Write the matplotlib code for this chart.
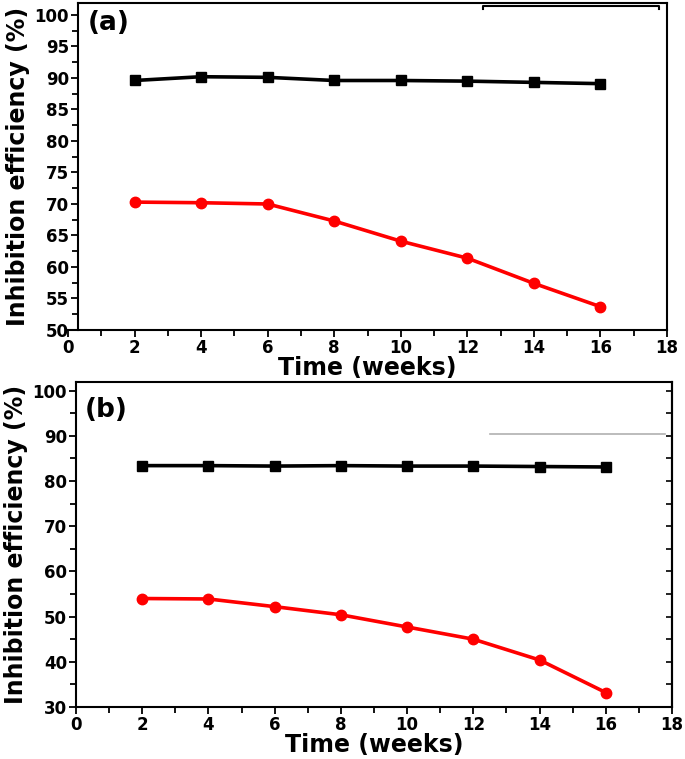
import matplotlib
matplotlib.use("Agg")
import matplotlib.pyplot as plt
from matplotlib.ticker import MultipleLocator
from matplotlib.lines import Line2D

plt.rcParams['font.family'] = ['DejaVu Sans']
plt.rcParams['font.weight'] = 'bold'

weeks = [2, 4, 6, 8, 10, 12, 14, 16]
a_black = [89.6, 90.2, 90.1, 89.6, 89.6, 89.5, 89.3, 89.1]
a_red = [70.3, 70.2, 70.0, 67.3, 64.1, 61.4, 57.4, 53.7]
b_black = [83.4, 83.4, 83.3, 83.4, 83.3, 83.3, 83.2, 83.1]
b_red = [54.0, 53.9, 52.2, 50.4, 47.7, 45.0, 40.4, 33.2]

W, H = 685, 759
fig = plt.figure(figsize=(W/100, H/100), dpi=100)

def px_axes(x0, x1, y0, y1):
    return fig.add_axes([x0/W, 1 - y1/H, (x1-x0)/W, (y1-y0)/H])

axa = px_axes(68, 667, 3, 330)
axb = px_axes(76, 672, 382, 707)

for ax, blk, red, ylim, maj, mnr in [
        (axa, a_black, a_red, (50, 101.9), 5, 2.5),
        (axb, b_black, b_red, (30, 101.9), 10, 5)]:
    ax.plot(weeks, blk, color='black', lw=2.6, marker='s', ms=6.5, zorder=3)
    ax.plot(weeks, red, color='#ff0000', lw=2.6, marker='o', ms=7.5, zorder=3)
    ax.set_xlim(0, 18)
    ax.set_ylim(*ylim)
    ax.xaxis.set_major_locator(MultipleLocator(2))
    ax.xaxis.set_minor_locator(MultipleLocator(1))
    ax.yaxis.set_major_locator(MultipleLocator(maj))
    ax.yaxis.set_minor_locator(MultipleLocator(mnr))
    ax.tick_params(which='both', direction='out', width=1.3, labelsize=12, pad=1.5)
    ax.tick_params(which='major', length=5)
    ax.tick_params(which='minor', length=4)
    for s in ax.spines.values():
        s.set_linewidth(1.5)
    ax.set_ylabel('Inhibition efficiency (%)', fontsize=17, fontweight='bold', labelpad=3)
    ax.set_xlabel('Time (weeks)', fontsize=17, fontweight='bold', labelpad=-1)
    for lab in ax.get_xticklabels() + ax.get_yticklabels():
        lab.set_fontweight('bold')

axa.spines['left'].set_position(('data', 0.3))
axa.spines['top'].set_bounds(0.3, 18)
axa.set_xticks([0, 2, 4, 6, 8, 10, 12, 14, 16, 18])

# right side inward ticks on panel (b)
axb_r = axb.secondary_yaxis('right')
axb_r.yaxis.set_major_locator(MultipleLocator(5))
axb_r.tick_params(direction='in', length=4, width=1.2, labelright=False)
axb_r.spines['right'].set_linewidth(1.5)

axa.text(0.033, 0.979, '(a)', transform=axa.transAxes, fontsize=19,
         fontweight='bold', va='top', ha='left')
axb.text(0.015, 0.954, '(b)', transform=axb.transAxes, fontsize=19,
         fontweight='bold', va='top', ha='left')

# legend-frame remnants
def fig_line(xs, ys, **kw):
    fig.add_artist(Line2D([x/W for x in xs], [1 - y/H for y in ys],
                          transform=fig.transFigure, **kw))

fig_line([483, 483, 659, 659], [9, 6, 6, 9], color='black', lw=1.5)
fig_line([490, 665], [434, 434], color='#b0b0b0', lw=1.2)

fig.savefig('out.png', dpi=100)
